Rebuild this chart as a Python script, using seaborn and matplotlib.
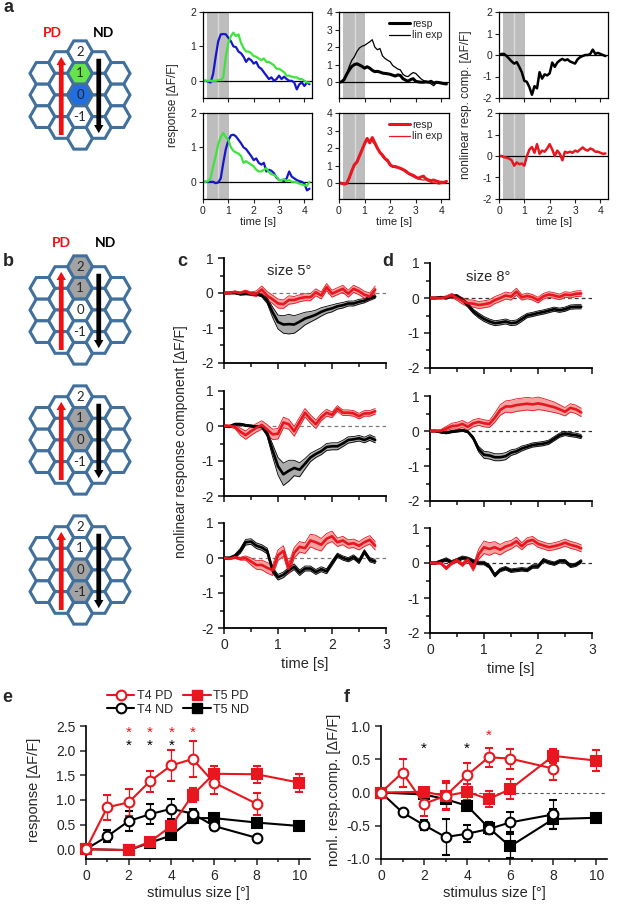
import numpy as np
import matplotlib
matplotlib.use("Agg")
import matplotlib.pyplot as plt
from matplotlib.patches import RegularPolygon
from matplotlib.lines import Line2D
from matplotlib.ticker import MultipleLocator, FormatStrFormatter
import seaborn as sns

# ---------------- data ----------------
t_a = np.round(np.arange(0, 4.25, 0.1), 1)      # 0 .. 4.2 s
t_c = np.round(np.arange(0, 2.85, 0.1), 1)      # 0 .. 2.8 s

# panel a, single-bar responses (blue: bar on 0, green: bar on 1)
blue_pd = [0, 0, -0.02, -0.05, 0.2, 0.7, 1.15, 1.35, 1.36, 1.35,
           1.25, 1.15, 1.0, 0.98, 0.85, 0.8, 0.7, 0.55, 0.65, 0.6,
           0.5, 0.55, 0.4, 0.35, 0.25, 0.15, 0.05, 0.1, 0.0, 0.05,
           0.15, 0.05, 0.12, 0.05, 0.0, 0.0, -0.05, -0.25, -0.1, -0.05,
           -0.15, -0.05, -0.1]
green_pd = [0, 0, 0, 0, 0, 0, 0.02, 0.02, 0.1, 0.7,
            1.1, 1.3, 1.4, 1.3, 1.35, 1.1, 0.95, 0.85, 0.85, 0.8,
            0.72, 0.7, 0.65, 0.6, 0.65, 0.55, 0.55, 0.5, 0.45, 0.35,
            0.35, 0.3, 0.25, 0.15, 0.15, 0.12, 0.1, 0.1, 0.05, 0.05,
            0.0, -0.05, -0.05]
green_nd = [0, 0, 0.02, 0.1, 0.45, 0.75, 1.1, 1.3, 1.42, 1.3,
            1.22, 1.0, 0.9, 0.85, 0.82, 0.75, 0.55, 0.6, 0.55, 0.5,
            0.45, 0.35, 0.3, 0.3, 0.35, 0.4, 0.28, 0.22, 0.2, 0.15,
            0.05, 0.05, 0.08, 0.02, 0.05, 0.0, 0.0, -0.02, -0.05, -0.08,
            -0.1, -0.12, 0.0]
blue_nd = [0, 0, 0, 0, 0, -0.04, -0.02, 0.1, 0.55, 0.95,
           1.2, 1.35, 1.37, 1.32, 1.22, 1.12, 1.0, 0.95, 0.85, 0.75,
           0.63, 0.68, 0.55, 0.5, 0.55, 0.3, 0.35, 0.32, 0.25, 0.12,
           0.05, 0.05, 0.02, 0.1, 0.3, 0.15, 0.1, 0.05, 0.02, 0.0,
           -0.05, -0.25, -0.2]

# panel a, apparent motion response vs linear expectation
resp_nd = [0, 0.02, 0.15, 0.45, 0.7, 0.9, 1.0, 1.05, 0.98, 0.9,
           0.8, 0.88, 0.8, 0.68, 0.6, 0.62, 0.58, 0.52, 0.5, 0.48,
           0.45, 0.4, 0.35, 0.42, 0.38, 0.2, 0.12, 0.05, 0.15, 0.2,
           0.05, 0.02, 0.0, 0.0, 0.02, 0.0, 0.05, -0.05, 0.0, -0.02,
           -0.05, -0.08, -0.1]
linexp_nd = [0, 0.02, 0.15, 0.45, 0.9, 1.25, 1.45, 1.75, 1.95, 2.05,
             2.1, 2.2, 2.3, 2.42, 2.0, 1.85, 1.92, 1.5, 1.35, 1.25,
             1.17, 0.95, 0.85, 0.75, 0.7, 0.45, 0.35, 0.32, 0.45, 0.55,
             0.5, 0.35, 0.2, 0.1, 0.05, 0.0, -0.1, -0.2, -0.05, 0.0,
             -0.02, -0.05, -0.1]
resp_pd = [0, 0.0, -0.05, -0.02, 0.3, 0.7, 1.05, 1.2, 1.55, 1.9,
           2.25, 2.55, 2.3, 2.6, 2.3, 2.0, 1.75, 1.6, 1.4, 1.3,
           1.05, 0.95, 0.95, 0.9, 0.85, 0.78, 0.7, 0.58, 0.5, 0.45,
           0.35, 0.28, 0.35, 0.4, 0.25, 0.18, 0.15, 0.18, 0.12, 0.08,
           0.05, 0.05, 0.1]
linexp_pd = [0, 0, 0, 0.05, 0.35, 0.75, 1.0, 1.3, 1.6, 1.95,
             2.3, 2.55, 2.35, 2.4, 2.2, 1.95, 1.8, 1.5, 1.35, 1.2,
             1.0, 0.95, 0.88, 0.9, 0.8, 0.75, 0.62, 0.55, 0.45, 0.38,
             0.3, 0.25, 0.2, 0.18, 0.2, 0.1, 0.05, 0.02, 0.0, -0.05,
             -0.02, 0.0, 0.05]

# panel a, nonlinear component
nl_nd = [0, 0.05, 0.05, -0.05, -0.17, -0.3, -0.4, -0.33, -0.55, -0.8,
         -1.2, -1.25, -1.5, -1.85, -1.45, -1.55, -0.8, -1.1, -0.9, -0.95,
         -0.85, -0.35, -0.55, -0.35, -0.25, -0.18, -0.25, -0.2, -0.3, -0.35,
         -0.4, -0.2, -0.1, -0.05, 0.0, 0.0, 0.05, 0.25, 0.05, 0.1,
         0.05, 0.0, -0.05]
nl_pd = [0, 0.0, -0.05, -0.08, -0.12, -0.2, -0.45, -0.3, -0.38, -0.35,
         -0.45, 0.0, 0.3, 0.42, 0.15, 0.55, 0.1, 0.25, 0.2, 0.35,
         0.55, 0.3, 0.0, 0.25, 0.1, -0.2, 0.2, 0.15, 0.2, 0.15,
         0.25, 0.2, 0.3, 0.4, 0.3, 0.25, 0.35, 0.3, 0.2, 0.2,
         0.15, 0.1, 0.12]

# panels c (5 deg) and d (8 deg): mean and sem, ND (black) and PD (red)
c1_nd = [0, 0.0, 0.0, -0.03, -0.02, -0.03, -0.03, -0.07, -0.22, -0.55,
         -0.83, -0.9, -0.89, -0.9, -0.82, -0.73, -0.68, -0.62, -0.54, -0.48,
         -0.44, -0.38, -0.35, -0.3, -0.3, -0.25, -0.22, -0.15, -0.1]
c1_nd_sem = [0.02, 0.02, 0.02, 0.03, 0.03, 0.03, 0.03, 0.04, 0.08, 0.15,
             0.2, 0.25, 0.28, 0.25, 0.22, 0.18, 0.15, 0.13, 0.12, 0.1,
             0.1, 0.08, 0.08, 0.07, 0.07, 0.07, 0.06, 0.06, 0.05]
c1_pd = [0, 0.0, 0.03, 0.0, 0.05, -0.02, -0.02, 0.1, -0.08, -0.18,
         -0.3, -0.32, -0.2, -0.2, -0.15, -0.12, -0.12, 0.02, -0.07, 0.17,
         -0.02, 0.05, 0.12, -0.02, 0.12, 0.05, -0.05, -0.1, 0.1]
c1_pd_sem = [0.03, 0.03, 0.03, 0.03, 0.03, 0.05, 0.08, 0.1, 0.12, 0.12,
             0.13, 0.12, 0.12, 0.1, 0.1, 0.1, 0.1, 0.1, 0.1, 0.1,
             0.1, 0.1, 0.1, 0.1, 0.1, 0.1, 0.1, 0.1, 0.1]

c2_nd = [0, -0.02, 0.05, 0.05, 0.02, 0.0, -0.02, -0.02, -0.22, -0.7,
         -1.15, -1.38, -1.28, -1.2, -1.25, -1.08, -0.9, -0.8, -0.72, -0.6,
         -0.58, -0.58, -0.5, -0.4, -0.38, -0.35, -0.4, -0.33, -0.4]
c2_nd_sem = [0.03, 0.03, 0.03, 0.03, 0.03, 0.03, 0.03, 0.03, 0.08, 0.18,
             0.25, 0.32, 0.3, 0.22, 0.2, 0.15, 0.12, 0.1, 0.1, 0.1,
             0.1, 0.1, 0.09, 0.09, 0.08, 0.08, 0.08, 0.08, 0.08]
c2_pd = [0, 0.0, -0.02, -0.16, -0.26, -0.15, -0.05, 0.03, -0.1, -0.24,
         -0.22, 0.1, 0.05, -0.15, 0.12, 0.38, 0.2, 0.05, 0.25, 0.38,
         0.32, 0.5, 0.38, 0.38, 0.36, 0.28, 0.36, 0.36, 0.42]
c2_pd_sem = [0.03, 0.03, 0.05, 0.1, 0.12, 0.12, 0.12, 0.12, 0.14, 0.15,
             0.15, 0.15, 0.14, 0.14, 0.13, 0.12, 0.12, 0.12, 0.1, 0.1,
             0.08, 0.08, 0.08, 0.08, 0.08, 0.08, 0.08, 0.08, 0.08]

c3_nd = [0, 0.0, 0.05, 0.2, 0.45, 0.47, 0.35, 0.3, 0.2, -0.35,
         -0.55, -0.48, -0.35, -0.25, -0.42, -0.3, -0.3, -0.4, -0.32, -0.38,
         -0.15, 0.08, 0.0, -0.05, 0.03, -0.1, 0.18, -0.05, -0.1]
c3_nd_sem = [0.03, 0.03, 0.05, 0.07, 0.08, 0.08, 0.08, 0.08, 0.08, 0.08,
             0.08, 0.08, 0.08, 0.08, 0.08, 0.07, 0.07, 0.07, 0.07, 0.07,
             0.07, 0.06, 0.06, 0.06, 0.06, 0.06, 0.06, 0.06, 0.06]
c3_pd = [0, -0.02, 0.02, -0.02, 0.0, -0.1, -0.2, -0.2, -0.28, -0.35,
         0.08, 0.2, -0.3, 0.15, 0.32, 0.28, 0.5, 0.45, 0.38, 0.55,
         0.62, 0.45, 0.5, 0.4, 0.42, 0.35, 0.45, 0.52, 0.35]
c3_pd_sem = [0.03, 0.03, 0.03, 0.04, 0.06, 0.1, 0.12, 0.14, 0.15, 0.15,
             0.15, 0.15, 0.15, 0.15, 0.15, 0.15, 0.18, 0.2, 0.18, 0.15,
             0.15, 0.12, 0.12, 0.12, 0.12, 0.12, 0.12, 0.12, 0.12]

d1_nd = [0, 0.0, 0.02, 0.0, 0.05, 0.05, -0.05, -0.2, -0.38, -0.5,
         -0.6, -0.67, -0.72, -0.7, -0.67, -0.72, -0.7, -0.6, -0.5, -0.47,
         -0.43, -0.4, -0.36, -0.32, -0.35, -0.32, -0.26, -0.25, -0.25]
d1_nd_sem = [0.02, 0.02, 0.03, 0.03, 0.04, 0.05, 0.05, 0.06, 0.06, 0.07,
             0.07, 0.07, 0.07, 0.07, 0.07, 0.07, 0.07, 0.07, 0.06, 0.06,
             0.06, 0.06, 0.06, 0.06, 0.06, 0.06, 0.06, 0.06, 0.06]
d1_pd = [0, 0.0, 0.0, 0.02, 0.08, 0.0, -0.08, -0.15, -0.16, -0.2,
         -0.18, -0.15, -0.06, 0.0, 0.07, 0.04, 0.18, 0.02, 0.06, 0.02,
         -0.06, 0.05, 0.1, 0.07, 0.03, 0.1, 0.08, 0.12, 0.13]
d1_pd_sem = [0.03, 0.03, 0.03, 0.04, 0.05, 0.07, 0.09, 0.1, 0.1, 0.1,
             0.1, 0.1, 0.1, 0.1, 0.1, 0.1, 0.1, 0.08, 0.08, 0.08,
             0.08, 0.08, 0.08, 0.08, 0.08, 0.08, 0.08, 0.08, 0.08]

d2_nd = [0, 0.0, -0.03, -0.05, -0.02, 0.0, 0.02, -0.02, -0.2, -0.52,
         -0.68, -0.7, -0.75, -0.75, -0.72, -0.62, -0.58, -0.5, -0.45, -0.4,
         -0.38, -0.36, -0.32, -0.22, -0.12, -0.07, -0.1, -0.12, -0.16]
d2_nd_sem = [0.02, 0.02, 0.03, 0.03, 0.03, 0.03, 0.03, 0.03, 0.05, 0.08,
             0.1, 0.1, 0.1, 0.1, 0.1, 0.08, 0.07, 0.07, 0.06, 0.06,
             0.06, 0.06, 0.06, 0.06, 0.06, 0.06, 0.06, 0.06, 0.06]
d2_pd = [0, 0.0, 0.0, 0.07, 0.14, 0.15, 0.2, 0.12, 0.22, 0.26,
         0.22, 0.2, 0.38, 0.6, 0.7, 0.7, 0.74, 0.76, 0.78, 0.76,
         0.79, 0.76, 0.72, 0.68, 0.62, 0.55, 0.66, 0.62, 0.53]
d2_pd_sem = [0.03, 0.03, 0.04, 0.06, 0.08, 0.1, 0.1, 0.1, 0.1, 0.1,
             0.1, 0.1, 0.13, 0.15, 0.16, 0.18, 0.18, 0.18, 0.18, 0.18,
             0.18, 0.17, 0.16, 0.15, 0.13, 0.12, 0.12, 0.12, 0.12]

d3_nd = [0, 0.0, 0.05, 0.1, 0.02, 0.08, 0.15, 0.12, 0.05, 0.0,
         0.0, -0.1, -0.35, -0.2, -0.15, -0.22, -0.2, -0.18, -0.2, -0.1,
         -0.1, 0.08, 0.02, -0.02, 0.05, 0.05, -0.08, -0.05, 0.05]
d3_nd_sem = [0.03, 0.03, 0.04, 0.05, 0.05, 0.05, 0.05, 0.05, 0.05, 0.05,
             0.05, 0.05, 0.05, 0.05, 0.05, 0.05, 0.05, 0.05, 0.05, 0.05,
             0.05, 0.05, 0.05, 0.05, 0.05, 0.05, 0.05, 0.05, 0.05]
d3_pd = [0, 0.0, 0.0, -0.15, 0.0, 0.08, -0.05, 0.1, -0.15, 0.25,
         0.45, 0.4, 0.45, 0.38, 0.47, 0.52, 0.62, 0.48, 0.62, 0.66,
         0.55, 0.5, 0.45, 0.48, 0.52, 0.58, 0.52, 0.48, 0.42]
d3_pd_sem = [0.03, 0.03, 0.03, 0.04, 0.05, 0.05, 0.05, 0.05, 0.08, 0.15,
             0.18, 0.18, 0.16, 0.15, 0.14, 0.12, 0.12, 0.1, 0.1, 0.1,
             0.1, 0.1, 0.1, 0.1, 0.1, 0.1, 0.1, 0.1, 0.1]

# panels e/f: size tuning
sizes_t4 = [0, 1, 2, 3, 4, 5, 6, 8]
sizes_t5 = [0, 2, 3, 4, 5, 6, 8, 10]
e_t4_pd = [0, 0.85, 0.95, 1.38, 1.7, 1.83, 1.35, 0.92]
e_t4_pd_err = [0, 0.25, 0.27, 0.21, 0.31, 0.36, 0.24, 0.23]
e_t4_nd = [0, 0.26, 0.57, 0.71, 0.82, 0.72, 0.47, 0.23]
e_t4_nd_err = [0, 0.12, 0.2, 0.2, 0.2, 0.1, 0.08, 0.03]
e_t5_pd = [0, -0.02, 0.15, 0.47, 1.1, 1.53, 1.52, 1.35]
e_t5_pd_err = [0, 0.03, 0.05, 0.1, 0.15, 0.15, 0.17, 0.18]
e_t5_nd = [0, -0.02, 0.13, 0.28, 0.63, 0.63, 0.54, 0.47]
e_t5_nd_err = [0, 0.02, 0.04, 0.06, 0.1, 0.05, 0.07, 0.05]

f_t4_pd = [0, 0.3, -0.17, -0.05, 0.26, 0.53, 0.51, 0.36]
f_t4_pd_err = [0, 0.21, 0.18, 0.22, 0.18, 0.14, 0.15, 0.17]
f_t4_nd = [0, -0.3, -0.49, -0.67, -0.62, -0.55, -0.45, -0.33]
f_t4_nd_err = [0, 0.03, 0.08, 0.27, 0.13, 0.08, 0.15, 0.22]
f_t5_pd = [0, 0.01, -0.05, 0.01, -0.1, 0.05, 0.55, 0.48]
f_t5_pd_err = [0, 0.05, 0.2, 0.12, 0.12, 0.15, 0.1, 0.16]
f_t5_nd = [0, -0.03, -0.1, -0.2, -0.53, -0.81, -0.4, -0.38]
f_t5_nd_err = [0, 0.03, 0.05, 0.04, 0.08, 0.18, 0.15, 0.03]

e_star_red = [2, 3, 4, 5]
e_star_black = [2, 3, 4]
f_star_red = [5]
f_star_black = [2, 4]

STIM_ON, STIM_MID, STIM_OFF = 0.15, 0.61, 1.03

# ---------------- style ----------------
RED = '#e8161e'
BLUE = '#1616cc'
GREEN = '#3ce43c'
HEX_EDGE = '#41709c'
RED_FILL = '#f4a3a3'
GRAY_FILL = '#ababab'

sns.set_theme(style='ticks')
plt.rcParams['font.family'] = ['Liberation Sans', 'DejaVu Sans']
plt.rcParams['axes.unicode_minus'] = False

W, H = 617, 907
fig = plt.figure(figsize=(W / 100, H / 100), dpi=100)


def add_ax(l, t, r, b):
    return fig.add_axes([l / W, 1 - b / H, (r - l) / W, (b - t) / H])


def ftext(x, y, s, **kw):
    fig.text(x / W, 1 - y / H, s, ha='center', va='center', **kw)


# ---------------- hexagon diagrams ----------------
hex_rows = {-2: [1, 0, -1], -1: [1.5, 0.5, -0.5, -1.5], 0: [2, 1, 0, -1, -2],
            1: [1.5, 0.5, -0.5, -1.5], 2: [1, 0, -1]}
hex_labels = {2: '2', 1: '1', 0: '0', -1: '-1'}
HEXFONT = ['Lato', 'DejaVu Sans']


def draw_hex(cx, cy, fills):
    ax = add_ax(cx - 65, cy - 65, cx + 65, cy + 65)
    ax.set_xlim(-5.2, 5.2)
    ax.set_ylim(-5.2, 5.2)
    ax.axis('off')
    for c, rows in hex_rows.items():
        for r in rows:
            fc = fills.get(r, 'white') if c == 0 else 'white'
            ax.add_patch(RegularPolygon((1.5 * c, np.sqrt(3) * r), 6, radius=1,
                                        orientation=np.pi / 6, fc=fc,
                                        ec=HEX_EDGE, lw=2.2))
    for r, s in hex_labels.items():
        ax.text(0, np.sqrt(3) * r, s, ha='center', va='center', fontsize=9.5,
                family=HEXFONT)
    ax.arrow(-1.5, -3.2, 0, 6.25, width=0.38, head_width=0.75, head_length=0.65,
             length_includes_head=True, color='#ee1111', lw=0)
    ax.arrow(1.5, 2.9, 0, -5.95, width=0.38, head_width=0.75, head_length=0.65,
             length_includes_head=True, color='black', lw=0)


draw_hex(80, 95, {1: '#66e44a', 0: '#1f6ee4'})
draw_hex(80, 310, {2: '#a3a3a3', 1: '#a3a3a3'})
draw_hex(80, 440, {1: '#a3a3a3', 0: '#a3a3a3'})
draw_hex(80, 570, {0: '#a3a3a3', -1: '#a3a3a3'})
for (xp, xn, y) in [(52, 103, 33), (61, 105, 243)]:
    ftext(xp, y, 'PD', color='#ee1111', fontsize=10, fontweight='bold', family=HEXFONT)
    ftext(xn, y, 'ND', color='black', fontsize=10, fontweight='bold', family=HEXFONT)


# ---------------- panel a traces ----------------
def style_a(ax, ylim, yticks, bottom):
    ax.set_xlim(0, 4.3)
    ax.set_ylim(*ylim)
    ax.set_xticks([0, 1, 2, 3, 4])
    ax.set_yticks(yticks)
    ax.tick_params(direction='out', length=3, width=0.8, labelsize=7.5, pad=2,
                   colors='#222222')
    for s in ax.spines.values():
        s.set_linewidth(0.9)
        s.set_color('black')
    ax.axvspan(STIM_ON, STIM_OFF, color='#bdbdbd', lw=0, zorder=0)
    ax.axvline(STIM_MID, color='#dadada', lw=1.0, zorder=0.5)
    ax.axhline(0, color='black', lw=0.9, zorder=1)
    if bottom:
        ax.set_xlabel('time [s]', fontsize=8, labelpad=1)
    else:
        ax.tick_params(labelbottom=False)


ax = add_ax(203, 12, 312, 98)
sns.lineplot(x=t_a, y=blue_pd, ax=ax, color=BLUE, lw=1.6)
sns.lineplot(x=t_a, y=green_pd, ax=ax, color=GREEN, lw=1.6)
style_a(ax, (-0.5, 2), [0, 1, 2], False)

ax = add_ax(203, 113, 312, 199)
sns.lineplot(x=t_a, y=blue_nd, ax=ax, color=BLUE, lw=1.6)
sns.lineplot(x=t_a, y=green_nd, ax=ax, color=GREEN, lw=1.6)
style_a(ax, (-0.5, 2), [0, 1, 2], True)

for top, (resp, lin, col) in zip([True, False], [(resp_nd, linexp_nd, 'black'),
                                              (resp_pd, linexp_pd, RED)]):
    ax = add_ax(339, 12, 449, 98) if top else add_ax(339, 113, 449, 199)
    sns.lineplot(x=t_a, y=lin, ax=ax, color=col, lw=0.9, label='lin exp')
    sns.lineplot(x=t_a, y=resp, ax=ax, color=col, lw=2.2, label='resp')
    style_a(ax, (-0.9, 4), [0, 1, 2, 3, 4], not top)
    h, l = ax.get_legend_handles_labels()
    ax.legend(h[::-1], l[::-1], loc='upper right', frameon=False, fontsize=7.5,
              handlelength=2.0, handletextpad=0.2, labelspacing=0.15,
              borderaxespad=0.25)

ax = add_ax(499, 12, 608, 98)
sns.lineplot(x=t_a, y=nl_nd, ax=ax, color='black', lw=1.8)
style_a(ax, (-2, 2), [-2, -1, 0, 1, 2], False)
ax = add_ax(499, 113, 608, 199)
sns.lineplot(x=t_a, y=nl_pd, ax=ax, color=RED, lw=1.8)
style_a(ax, (-2, 2), [-2, -1, 0, 1, 2], True)

ftext(173, 105, 'response [ΔF/F]', rotation=90, fontsize=8.5)
ftext(466, 105, 'nonlinear resp. comp. [ΔF/F]', rotation=90, fontsize=8.5)


# ---------------- panels c, d ----------------
def band(ax, m, s, col, fill):
    m = np.asarray(m)
    s = np.asarray(s)
    ax.fill_between(t_c, m - s, m + s, color=fill, lw=0, zorder=2)
    sns.lineplot(x=t_c, y=m - s, ax=ax, color=col, lw=0.6, zorder=3)
    sns.lineplot(x=t_c, y=m + s, ax=ax, color=col, lw=0.6, zorder=3)
    sns.lineplot(x=t_c, y=m, ax=ax, color=col, lw=1.9, zorder=4)


def style_cd(ax, bottom, dash_col):
    ax.set_xlim(0, 3)
    ax.set_ylim(-2, 1)
    sns.despine(ax=ax)
    ax.xaxis.set_major_locator(MultipleLocator(1))
    ax.xaxis.set_minor_locator(MultipleLocator(0.5))
    ax.yaxis.set_major_locator(MultipleLocator(1))
    ax.yaxis.set_minor_locator(MultipleLocator(0.5))
    ax.tick_params(which='major', direction='out', length=4.5, width=1.2,
                   labelsize=10, pad=3)
    ax.tick_params(which='minor', direction='out', length=3, width=1.2)
    for s in ['left', 'bottom']:
        ax.spines[s].set_linewidth(1.3)
        ax.spines[s].set_color('black')
    ax.axhline(0, color=dash_col, ls=(0, (3, 2.5)), lw=0.9, zorder=1)
    if bottom:
        ax.set_xlabel('time [s]', fontsize=10.5, labelpad=3)
    else:
        ax.tick_params(labelbottom=False)


c_sets = [(c1_nd, c1_nd_sem, c1_pd, c1_pd_sem), (c2_nd, c2_nd_sem, c2_pd, c2_pd_sem),
          (c3_nd, c3_nd_sem, c3_pd, c3_pd_sem)]
d_sets = [(d1_nd, d1_nd_sem, d1_pd, d1_pd_sem), (d2_nd, d2_nd_sem, d2_pd, d2_pd_sem),
          (d3_nd, d3_nd_sem, d3_pd, d3_pd_sem)]
c_tops = [258, 391, 523]
d_tops = [263, 396, 528]

for i in range(3):
    ax = add_ax(224, c_tops[i], 386, c_tops[i] + 105)
    nd, nds, pd_, pds = c_sets[i]
    band(ax, nd, nds, 'black', GRAY_FILL)
    band(ax, pd_, pds, RED, RED_FILL)
    style_cd(ax, i == 2, '#7a7a7a')
    if i == 0:
        ax.text(1.2, 0.63, 'size 5°', fontsize=10.5, ha='center', va='center')

    ax = add_ax(430, d_tops[i], 592, d_tops[i] + 105)
    nd, nds, pd_, pds = d_sets[i]
    band(ax, nd, nds, 'black', GRAY_FILL)
    band(ax, pd_, pds, RED, RED_FILL)
    style_cd(ax, i == 2, '#333333')
    if i == 0:
        ax.text(1.07, 0.6, 'size 8°', fontsize=10.5, ha='center', va='center')

ftext(181, 442, 'nonlinear response component [ΔF/F]', rotation=90, fontsize=10)


# ---------------- panels e, f ----------------
def tuning(ax, x, y, err, col, marker, filled):
    mfc = col if filled else 'white'
    ax.errorbar(x, y, yerr=err, color=col, lw=1.5, marker=marker,
                ms=7 if marker == 'o' else 6.5, mfc=mfc, mec=col, mew=1.5,
                elinewidth=0.9, capsize=3, capthick=0.9, clip_on=False, zorder=3)


def style_ef(ax, ylim, ystep):
    ax.set_xlim(0, 10.5)
    ax.set_ylim(*ylim)
    sns.despine(ax=ax)
    ax.xaxis.set_major_locator(MultipleLocator(2))
    ax.xaxis.set_minor_locator(MultipleLocator(1))
    ax.yaxis.set_major_locator(MultipleLocator(ystep))
    ax.yaxis.set_major_formatter(FormatStrFormatter('%.1f'))
    ax.tick_params(which='major', direction='out', length=4.5, width=1.1,
                   labelsize=10, pad=3)
    ax.tick_params(which='minor', direction='out', length=2.5, width=1.1)
    for s in ['left', 'bottom']:
        ax.spines[s].set_linewidth(1.2)
        ax.spines[s].set_color('black')
    ax.set_xlabel('stimulus size [°]', fontsize=10.5, labelpad=2)


ax = add_ax(86, 726, 310, 859)
tuning(ax, sizes_t5, e_t5_nd, e_t5_nd_err, 'black', 's', True)
tuning(ax, sizes_t4, e_t4_nd, e_t4_nd_err, 'black', 'o', False)
tuning(ax, sizes_t5, e_t5_pd, e_t5_pd_err, RED, 's', True)
tuning(ax, sizes_t4, e_t4_pd, e_t4_pd_err, RED, 'o', False)
style_ef(ax, (-0.2, 2.5), 0.5)
for x in e_star_red:
    ax.text(x, 2.37, '*', color=RED, fontsize=11, ha='center', va='center')
for x in e_star_black:
    ax.text(x, 2.1, '*', color='black', fontsize=11, ha='center', va='center')
ftext(34, 790, 'response [ΔF/F]', rotation=90, fontsize=10.5)

ax = add_ax(381, 726, 607, 859)
ax.axhline(0, color='#555555', ls=(0, (3, 2.5)), lw=0.8, zorder=1)
tuning(ax, sizes_t5, f_t5_nd, f_t5_nd_err, 'black', 's', True)
tuning(ax, sizes_t4, f_t4_nd, f_t4_nd_err, 'black', 'o', False)
tuning(ax, sizes_t5, f_t5_pd, f_t5_pd_err, RED, 's', True)
tuning(ax, sizes_t4, f_t4_pd, f_t4_pd_err, RED, 'o', False)
style_ef(ax, (-1, 1), 0.5)
for x in f_star_red:
    ax.text(x, 0.86, '*', color=RED, fontsize=11, ha='center', va='center')
for x in f_star_black:
    ax.text(x, 0.66, '*', color='black', fontsize=11, ha='center', va='center')
ftext(334, 790, 'nonl. resp.comp. [ΔF/F]', rotation=90, fontsize=10.5)

handles = [
    Line2D([], [], color=RED, marker='o', mfc='white', mec=RED, mew=1.5, ms=7, lw=1.5),
    Line2D([], [], color='black', marker='o', mfc='white', mec='black', mew=1.5, ms=7, lw=1.5),
    Line2D([], [], color=RED, marker='s', mfc=RED, mec=RED, ms=6.5, lw=1.5),
    Line2D([], [], color='black', marker='s', mfc='black', mec='black', ms=6.5, lw=1.5),
]
fig.legend(handles, ['T4 PD', 'T4 ND', 'T5 PD', 'T5 ND'], loc='center',
           bbox_to_anchor=(178 / W, 1 - 703 / H), ncol=2, frameon=False,
           fontsize=9, handlelength=2.2, columnspacing=0.8, labelspacing=0.1,
           handletextpad=0.2, borderpad=0)

# ---------------- panel letters ----------------
for s, x, y in [('a', 8, 7), ('b', 8, 262), ('c', 182, 262), ('d', 388, 262),
                ('e', 7, 697), ('f', 347, 697)]:
    ftext(x, y, s, fontsize=13, fontweight='bold')

fig.savefig('out.png', dpi=100)
